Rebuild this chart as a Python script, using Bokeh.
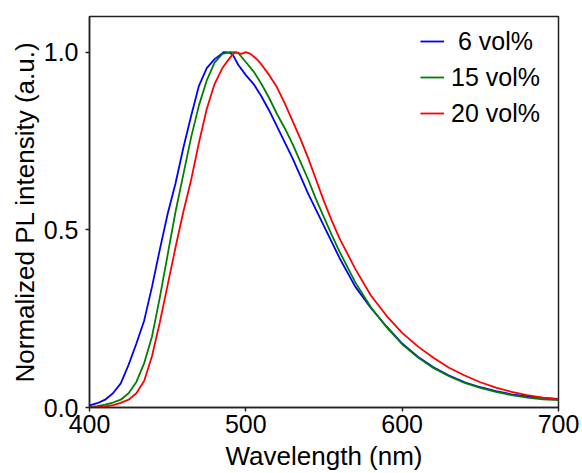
from bokeh.plotting import figure
from bokeh.models import (ColumnDataSource, FixedTicker, PrintfTickFormatter,
                          Legend, LegendItem, Range1d)
from bokeh.embed import file_html
from bokeh.resources import INLINE

# ---- data ----
wl_6 = [400, 405, 410, 415, 420, 425, 430, 435, 440, 445, 450, 455, 460, 465,
        470, 475, 480, 483, 486, 490, 492, 495, 500, 505, 510, 515, 520, 525,
        530, 535, 540, 545, 550, 555, 560, 570, 580, 590, 600, 610, 620, 630,
        640, 650, 660, 670, 680, 690, 700]
pl_6 = [0.006, 0.012, 0.022, 0.04, 0.068, 0.12, 0.18, 0.245, 0.34, 0.445,
        0.545, 0.63, 0.73, 0.82, 0.905, 0.955, 0.98, 0.99, 1.0, 0.998, 0.99,
        0.965, 0.935, 0.91, 0.875, 0.835, 0.79, 0.745, 0.70, 0.65, 0.60, 0.555,
        0.51, 0.465, 0.42, 0.34, 0.28, 0.228, 0.18, 0.143, 0.113, 0.09,
        0.071, 0.057, 0.046, 0.037, 0.031, 0.027, 0.024]

wl_15 = [400, 405, 410, 415, 420, 425, 430, 435, 440, 445, 450, 455, 460, 465,
         470, 475, 480, 485, 490, 495, 500, 505, 510, 515, 520, 525, 530, 535,
         540, 545, 550, 555, 560, 570, 580, 590, 600, 610, 620, 630, 640, 650,
         660, 670, 680, 690, 700]
pl_15 = [0.002, 0.004, 0.008, 0.014, 0.022, 0.04, 0.072, 0.125, 0.20, 0.31,
         0.43, 0.55, 0.655, 0.76, 0.85, 0.92, 0.97, 0.995, 1.0, 0.998, 0.972,
         0.945, 0.91, 0.87, 0.825, 0.785, 0.74, 0.69, 0.64, 0.585, 0.535, 0.485,
         0.438, 0.352, 0.282, 0.226, 0.178, 0.141, 0.111, 0.088, 0.069, 0.055,
         0.044, 0.035, 0.028, 0.023, 0.021]

wl_20 = [400, 405, 410, 415, 420, 425, 430, 435, 440, 445, 450, 455, 460, 465,
         470, 475, 480, 485, 490, 493, 497, 500, 503, 507, 510, 515, 520, 525,
         530, 535, 540, 545, 550, 555, 560, 570, 580, 590, 600, 610, 620, 630,
         640, 650, 660, 670, 680, 690, 700]
pl_20 = [0.0, 0.001, 0.003, 0.007, 0.013, 0.022, 0.04, 0.075, 0.145, 0.24,
         0.345, 0.45, 0.55, 0.64, 0.745, 0.84, 0.91, 0.955, 0.985, 1.0, 0.995,
         1.0, 0.995, 0.98, 0.965, 0.935, 0.90, 0.855, 0.805, 0.755, 0.70, 0.64,
         0.58, 0.525, 0.475, 0.39, 0.315, 0.258, 0.21, 0.172, 0.14, 0.112,
         0.09, 0.071, 0.056, 0.044, 0.035, 0.028, 0.023]

series_labels = ["\u00a06 vol%", "15 vol%", "20 vol%"]
series_colors = ["#0000ff", "#008000", "#ff0000"]
x_ticks = [400, 500, 600, 700]
y_ticks = [0.0, 0.5, 1.0]

FONT = "Liberation Sans"

p = figure(width=582, height=473, output_backend="svg", toolbar_location=None,
           x_range=Range1d(400, 700), y_range=Range1d(0, 1.1),
           min_border_left=89, min_border_right=24, min_border_top=16,
           min_border_bottom=66)
p.xgrid.visible = False
p.ygrid.visible = False
p.background_fill_color = "white"
p.border_fill_color = "white"
p.outline_line_color = "#222222"
p.outline_line_width = 1.5

renderers = []
for wl, pl, col in zip([wl_6, wl_15, wl_20], [pl_6, pl_15, pl_20], series_colors):
    src = ColumnDataSource(dict(x=wl, y=pl))
    r = p.line("x", "y", source=src, line_color=col, line_width=1.8)
    renderers.append(r)

for ax in (p.xaxis[0], p.yaxis[0]):
    ax.axis_line_color = "#222222"
    ax.axis_line_width = 1.5
    ax.major_tick_line_color = "#222222"
    ax.major_tick_line_width = 1.5
    ax.major_tick_in = 0
    ax.major_tick_out = 4
    ax.minor_tick_line_color = None
    ax.major_label_text_font = FONT
    ax.major_label_text_font_size = "25px"
    ax.major_label_text_color = "black"
    ax.axis_label_text_font = FONT
    ax.axis_label_text_font_size = "26px"
    ax.axis_label_text_font_style = "normal"
    ax.axis_label_text_color = "black"

p.xaxis.ticker = FixedTicker(ticks=x_ticks)
p.yaxis.ticker = FixedTicker(ticks=y_ticks)
p.yaxis.formatter = PrintfTickFormatter(format="%.1f")
p.xaxis.major_label_standoff = 3
p.yaxis.major_label_standoff = 7
p.xaxis.axis_label = "Wavelength (nm)"
p.xaxis.axis_label_standoff = 5
p.yaxis.axis_label = "Normalized PL intensity (a.u.)"
p.yaxis.axis_label_standoff = 1

legend = Legend(items=[LegendItem(label=lab, renderers=[r])
                       for lab, r in zip(series_labels, renderers)],
                location=(331, 279), padding=0, margin=0, spacing=6,
                glyph_width=24, glyph_height=30, label_height=30,
                label_standoff=7, label_text_font=FONT,
                label_text_font_size="25px", label_text_color="black",
                border_line_color=None, background_fill_alpha=0)
p.add_layout(legend)

open("out.html", "w").write(file_html(p, INLINE))
